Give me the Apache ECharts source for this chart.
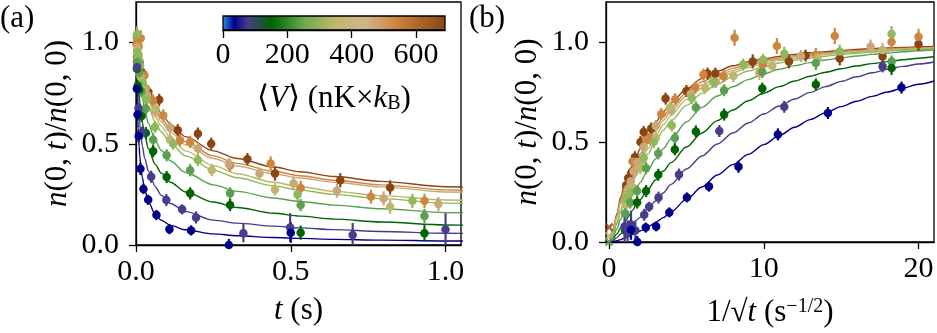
<!DOCTYPE html>
<html>
<head>
<meta charset="utf-8">
<script src="https://cdn.jsdelivr.net/npm/echarts@6/dist/echarts.min.js"></script>
<style>
  html, body { margin: 0; background: #fff; }
  #chart { width: 937px; height: 333px; }
</style>
</head>
<body>
<div id="chart"></div>
<script>
// fit curves, sampled at 1/sqrt(t) (s^-1/2); panel (a) uses t = 1/x^2
const fitX = [0.02, 0.25, 0.5, 0.75, 1, 1.125, 1.25, 1.375, 1.5, 1.75, 2, 2.5, 3, 3.5, 4, 5, 6, 7, 8, 9, 10, 11, 12, 13, 14, 15, 16, 17, 18, 19, 20, 21];
const fitDarkBlue = [0, 0.002, 0.006, 0.012, 0.02, 0.024, 0.028, 0.0325, 0.037, 0.046, 0.055, 0.075, 0.097, 0.122, 0.151, 0.213, 0.275, 0.335, 0.387, 0.438, 0.487, 0.532, 0.574, 0.612, 0.646, 0.677, 0.704, 0.728, 0.75, 0.77, 0.789, 0.805];
const fitSlateBlue = [0, 0.008, 0.022, 0.04, 0.058, 0.067, 0.076, 0.0845, 0.093, 0.108, 0.123, 0.165, 0.205, 0.245, 0.288, 0.365, 0.43, 0.49, 0.545, 0.595, 0.64, 0.68, 0.715, 0.748, 0.777, 0.803, 0.826, 0.846, 0.863, 0.878, 0.89, 0.9];
const fitDarkGreen = [0, 0.015, 0.04, 0.07, 0.099, 0.1135, 0.128, 0.1425, 0.157, 0.185, 0.212, 0.262, 0.31, 0.355, 0.397, 0.475, 0.545, 0.607, 0.66, 0.706, 0.745, 0.777, 0.805, 0.829, 0.849, 0.866, 0.88, 0.892, 0.902, 0.911, 0.919, 0.926];
const fitGreen = [0, 0.025, 0.065, 0.115, 0.16, 0.179, 0.197, 0.215, 0.232, 0.265, 0.297, 0.358, 0.415, 0.467, 0.515, 0.6, 0.673, 0.73, 0.776, 0.812, 0.841, 0.864, 0.882, 0.897, 0.91, 0.921, 0.93, 0.938, 0.945, 0.951, 0.956, 0.96];
const fitLightGreen = [0, 0.035, 0.09, 0.15, 0.207, 0.229, 0.25, 0.271, 0.292, 0.332, 0.37, 0.44, 0.503, 0.558, 0.605, 0.683, 0.743, 0.79, 0.826, 0.855, 0.877, 0.895, 0.909, 0.92, 0.929, 0.937, 0.944, 0.95, 0.955, 0.959, 0.963, 0.966];
const fitKhaki = [0, 0.04, 0.1, 0.163, 0.222, 0.244, 0.265, 0.288, 0.31, 0.352, 0.392, 0.465, 0.53, 0.586, 0.634, 0.712, 0.77, 0.813, 0.846, 0.872, 0.892, 0.907, 0.919, 0.929, 0.937, 0.944, 0.95, 0.955, 0.959, 0.963, 0.966, 0.969];
const fitTan = [0, 0.05, 0.125, 0.2, 0.262, 0.287, 0.31, 0.331, 0.352, 0.39, 0.427, 0.495, 0.556, 0.609, 0.655, 0.73, 0.785, 0.826, 0.857, 0.881, 0.9, 0.914, 0.926, 0.935, 0.942, 0.948, 0.953, 0.958, 0.962, 0.965, 0.968, 0.971];
const fitPeru = [0, 0.055, 0.13, 0.21, 0.272, 0.297, 0.32, 0.342, 0.364, 0.403, 0.44, 0.51, 0.572, 0.626, 0.672, 0.746, 0.8, 0.839, 0.868, 0.89, 0.907, 0.92, 0.931, 0.939, 0.946, 0.952, 0.957, 0.961, 0.965, 0.968, 0.971, 0.973];
const fitBrown = [0, 0.06, 0.14, 0.225, 0.288, 0.314, 0.338, 0.362, 0.385, 0.427, 0.465, 0.535, 0.597, 0.65, 0.695, 0.765, 0.817, 0.854, 0.881, 0.901, 0.916, 0.928, 0.938, 0.946, 0.952, 0.958, 0.963, 0.967, 0.97, 0.973, 0.976, 0.978];

// measured points: time (s), n(0,t)/n(0,0), error
const tDarkBlue = [0.0028, 0.005, 0.0084, 0.0143, 0.024, 0.0395, 0.066, 0.108, 0.178, 0.3, 0.5];
const nDarkBlue = [0.772, 0.645, 0.538, 0.376, 0.277, 0.223, 0.148, 0.078, 0.072, 0.0, 0.061];
const eDarkBlue = [0.03, 0.03, 0.03, 0.03, 0.025, 0.025, 0.025, 0.025, 0.025, 0.03, 0.05];

const tSlateBlue = [0.0032, 0.0078, 0.0197, 0.049, 0.098, 0.149, 0.194, 0.347, 0.498, 0.7, 1.0];
const nSlateBlue = [0.878, 0.676, 0.555, 0.337, 0.222, 0.176, 0.136, 0.058, 0.087, 0.049, 0.077];
const eSlateBlue = [0.03, 0.03, 0.03, 0.03, 0.03, 0.025, 0.03, 0.045, 0.07, 0.06, 0.08];

const tDarkGreen = [0.003, 0.0056, 0.0102, 0.0181, 0.0318, 0.0554, 0.099, 0.175, 0.304, 0.532, 0.932];
const nDarkGreen = [0.87, 0.788, 0.767, 0.637, 0.553, 0.463, 0.336, 0.255, 0.197, 0.061, 0.058];
const eDarkGreen = [0.035, 0.03, 0.03, 0.03, 0.03, 0.03, 0.03, 0.03, 0.03, 0.035, 0.04];

const tGreen = [0.003, 0.0056, 0.0102, 0.0181, 0.0318, 0.0554, 0.099, 0.175, 0.304, 0.532, 0.932];
const nGreen = [0.903, 0.895, 0.85, 0.759, 0.673, 0.52, 0.443, 0.369, 0.255, 0.197, 0.143];
const eGreen = [0.03, 0.035, 0.03, 0.03, 0.03, 0.03, 0.03, 0.03, 0.03, 0.03, 0.035];

const tLightGreen = [0.003, 0.0045, 0.0078, 0.0101, 0.0133, 0.022, 0.035, 0.061, 0.12, 0.2, 0.522, 0.893];
const nLightGreen = [1.04, 0.952, 0.941, 0.911, 0.887, 0.80, 0.72, 0.583, 0.50, 0.42, 0.25, 0.218];
const eLightGreen = [0.04, 0.035, 0.035, 0.03, 0.03, 0.03, 0.03, 0.03, 0.03, 0.03, 0.035, 0.035];

const tKhaki = [0.0032, 0.0055, 0.009, 0.0155, 0.026, 0.064, 0.11, 0.245, 0.449, 0.821];
const nKhaki = [0.96, 0.92, 0.88, 0.83, 0.77, 0.673, 0.52, 0.37, 0.274, 0.189];
const eKhaki = [0.035, 0.03, 0.03, 0.03, 0.03, 0.03, 0.03, 0.03, 0.03, 0.035];

const tTan = [0.0035, 0.0065, 0.0106, 0.021, 0.036, 0.062, 0.11, 0.2, 0.3, 0.399, 0.509, 0.649, 0.8, 0.977];
const nTan = [0.977, 0.93, 0.846, 0.80, 0.74, 0.66, 0.58, 0.476, 0.40, 0.353, 0.304, 0.268, 0.23, 0.202];
const eTan = [0.035, 0.03, 0.035, 0.03, 0.03, 0.03, 0.03, 0.03, 0.03, 0.03, 0.035, 0.035, 0.035, 0.035];

const tPeru = [0.0025, 0.003, 0.0047, 0.0056, 0.0085, 0.0101, 0.0152, 0.0183, 0.0269, 0.0322, 0.0548, 0.088, 0.142, 0.175, 0.304, 0.435, 0.532, 0.759, 0.932];
const nPeru = [1.026, 1.0, 1.03, 0.936, 0.98, 0.887, 1.021, 0.829, 0.837, 0.772, 0.714, 0.64, 0.517, 0.509, 0.394, 0.402, 0.282, 0.238, 0.218];
const ePeru = [0.04, 0.035, 0.04, 0.035, 0.04, 0.035, 0.04, 0.03, 0.03, 0.03, 0.03, 0.03, 0.03, 0.03, 0.03, 0.035, 0.035, 0.035, 0.035];

const tBrown = [0.0025, 0.0032, 0.0045, 0.0062, 0.0074, 0.0116, 0.0212, 0.0247, 0.04, 0.075, 0.135, 0.2, 0.243, 0.36, 0.449, 0.66, 0.821];
const nBrown = [0.99, 0.928, 0.918, 0.932, 0.903, 0.903, 0.842, 0.842, 0.755, 0.717, 0.567, 0.55, 0.5, 0.424, 0.353, 0.32, 0.284];
const eBrown = [0.035, 0.035, 0.035, 0.03, 0.035, 0.035, 0.03, 0.03, 0.03, 0.03, 0.03, 0.03, 0.03, 0.03, 0.035, 0.035, 0.035];

// long-time points plotted at 1/sqrt(t) = 0 (cross markers)
const crossN = [0.074, 0.03, 0.0];

// colorbar
const cbarMax = 690;
const cbarTicks = [0, 200, 400, 600];
const cbarStops = [0, 0.05, 0.11, 0.22, 0.36, 0.5, 0.64, 0.78, 1];
const cbarColors = ['#2a8ee0', '#00008b', '#483d8b', '#006400', '#6aa84f', '#bdb76b', '#d2b48c', '#cd853f', '#8b4513'];

const panelYTicks = [0, 0.5, 1.0];
const panelAXTicks = [0, 0.5, 1.0];
const panelBXTicks = [0, 10, 20];

const groups = [
  { t: tBrown, n: nBrown, e: eBrown, fit: fitBrown, color: '#8b4513' },
  { t: tPeru, n: nPeru, e: ePeru, fit: fitPeru, color: '#cd853f' },
  { t: tTan, n: nTan, e: eTan, fit: fitTan, color: '#c9a878' },
  { t: tKhaki, n: nKhaki, e: eKhaki, fit: fitKhaki, color: '#bdb76b' },
  { t: tLightGreen, n: nLightGreen, e: eLightGreen, fit: fitLightGreen, color: '#8db85c' },
  { t: tGreen, n: nGreen, e: eGreen, fit: fitGreen, color: '#5aa050' },
  { t: tDarkGreen, n: nDarkGreen, e: eDarkGreen, fit: fitDarkGreen, color: '#006400' },
  { t: tSlateBlue, n: nSlateBlue, e: eSlateBlue, fit: fitSlateBlue, color: '#483d8b' },
  { t: tDarkBlue, n: nDarkBlue, e: eDarkBlue, fit: fitDarkBlue, color: '#00008b' },
];
const crossColors = ['#8b4513', '#c9a878', '#5aa050'];

const font = 'Liberation Serif';
const tickFont = { fontFamily: font, fontSize: 30, color: '#000' };
const nameFont = {
  fontFamily: font, fontSize: 31, color: '#000',
  rich: {
    i: { fontFamily: font, fontSize: 31, fontStyle: 'italic', color: '#000' },
    sup: { fontFamily: font, fontSize: 20, color: '#000', verticalAlign: 'top', lineHeight: 31 },
    sub: { fontFamily: font, fontSize: 20, color: '#000', verticalAlign: 'bottom', lineHeight: 31 },
  },
};

const axisLine = { show: true, onZero: false, lineStyle: { color: '#000', width: 1.3 } };

function xAxisCfg(gridIndex, min, max, ticks, fmt, name, gap) {
  return {
    type: 'value', gridIndex, min, max, position: 'bottom',
    axisLine,
    axisTick: { show: true, inside: false, length: 7, customValues: ticks, lineStyle: { color: '#000', width: 1.3 } },
    axisLabel: { ...tickFont, margin: 12, customValues: ticks, formatter: fmt },
    splitLine: { show: false },
    name, nameLocation: 'middle', nameGap: gap, nameTextStyle: nameFont,
  };
}
function yAxisCfg(gridIndex) {
  return {
    type: 'value', gridIndex, min: 0, max: 1.2,
    axisLine,
    axisTick: { show: true, inside: false, length: 7, customValues: panelYTicks, lineStyle: { color: '#000', width: 1.3 } },
    axisLabel: { ...tickFont, margin: 17, customValues: panelYTicks, formatter: (v) => v.toFixed(1) },
    splitLine: { show: false },
    name: '{i|n}(0, {i|t})/{i|n}(0, 0)', nameLocation: 'middle', nameGap: 63, nameRotate: 90, nameTextStyle: nameFont,
  };
}

function fitLine(axis, data, color) {
  return {
    type: 'line', xAxisIndex: axis, yAxisIndex: axis, data, showSymbol: false, symbol: 'none',
    smooth: 0.3, smoothMonotone: 'x', clip: true, z: 2, silent: true,
    lineStyle: { color, width: 1.4 },
  };
}
function errBars(axis, data, color) {
  return {
    type: 'custom', xAxisIndex: axis, yAxisIndex: axis, data, clip: true, z: 3, silent: true,
    encode: { x: 0, y: 1 },
    renderItem: (params, api) => {
      const lo = api.coord([api.value(0), api.value(1) - api.value(2)]);
      const hi = api.coord([api.value(0), api.value(1) + api.value(2)]);
      return { type: 'line', shape: { x1: lo[0], y1: lo[1], x2: hi[0], y2: hi[1] }, style: { stroke: color, lineWidth: 2.2 } };
    },
  };
}
function dots(axis, data, color) {
  return {
    type: 'scatter', xAxisIndex: axis, yAxisIndex: axis, data, symbolSize: 8.5, clip: true, z: 4, silent: true,
    itemStyle: { color, opacity: 1 },
  };
}

const series = [];
groups.forEach((g) => {
  const fitA = fitX.map((x, i) => [1 / (x * x), g.fit[i]]);
  const fitB = fitX.map((x, i) => [x, g.fit[i]]);
  const ptsA = g.t.map((t, i) => [t, g.n[i], g.e[i]]);
  const ptsB = g.t.map((t, i) => [1 / Math.sqrt(t), g.n[i], g.e[i]]);
  series.push(fitLine(0, fitA, g.color), fitLine(1, fitB, g.color));
  series.push(errBars(0, ptsA, g.color), errBars(1, ptsB, g.color));
  series.push(dots(0, ptsA, g.color), dots(1, ptsB, g.color));
});
crossN.forEach((v, i) => {
  series.push({
    type: 'scatter', xAxisIndex: 1, yAxisIndex: 1, data: [[0, v]], clip: true, z: 5, silent: true,
    symbol: 'path://M0,2 L2,0 L5,3 L8,0 L10,2 L7,5 L10,8 L8,10 L5,7 L2,10 L0,8 L3,5 Z',
    symbolSize: 9, itemStyle: { color: crossColors[i] },
  });
});

// colorbar drawn as one bar across its own value axis
series.push({
  type: 'custom', xAxisIndex: 2, yAxisIndex: 2, data: [[0, cbarMax]], silent: true,
  renderItem: (params, api) => {
    const p0 = api.coord([api.value(0), 1]);
    const p1 = api.coord([api.value(1), 0]);
    return {
      type: 'rect',
      shape: { x: p0[0], y: p0[1], width: p1[0] - p0[0], height: p1[1] - p0[1] },
      style: {
        fill: new echarts.graphic.LinearGradient(0, 0, 1, 0, cbarStops.map((s, i) => ({ offset: s, color: cbarColors[i] }))),
      },
    };
  },
});

const chart = echarts.init(document.getElementById('chart'));
chart.setOption({
  animation: false,
  backgroundColor: '#fff',
  grid: [
    { left: 136, top: 2, width: 325, height: 243, show: true, borderColor: '#000', borderWidth: 1.3, backgroundColor: 'transparent' },
    { left: 606, top: 2, width: 328, height: 243, show: true, borderColor: '#000', borderWidth: 1.3, backgroundColor: 'transparent' },
    { left: 223, top: 16, width: 222, height: 14, show: true, borderColor: '#000', borderWidth: 1.3, backgroundColor: 'transparent', z: 10 },
  ],
  xAxis: [
    xAxisCfg(0, 0, 1.05, panelAXTicks, (v) => v.toFixed(1), '{i|t} (s)', 50),
    xAxisCfg(1, -0.2, 21, panelBXTicks, (v) => String(v), '1/√{i|t} (s{sup|−1/2})', 55),
    {
      type: 'value', gridIndex: 2, min: 0, max: cbarMax, position: 'bottom', z: 10,
      axisLine,
      axisTick: { show: true, inside: false, length: 8, customValues: cbarTicks, lineStyle: { color: '#000', width: 1.3 } },
      axisLabel: { ...tickFont, margin: 10, customValues: cbarTicks, formatter: (v) => String(v) },
      splitLine: { show: false },
      name: '⟨{i|V}⟩ (nK×{i|k}{sub|B})', nameLocation: 'middle', nameGap: 53, nameTextStyle: nameFont,
    },
  ],
  yAxis: [
    yAxisCfg(0),
    yAxisCfg(1),
    { type: 'value', gridIndex: 2, min: 0, max: 1, show: false },
  ],
  graphic: [
    { type: 'text', left: 0, top: 3, style: { text: '(a)', font: '31px "Liberation Serif"', fill: '#000' } },
    { type: 'text', left: 469, top: 3, style: { text: '(b)', font: '31px "Liberation Serif"', fill: '#000' } },
  ],
  series,
});
</script>
</body>
</html>
